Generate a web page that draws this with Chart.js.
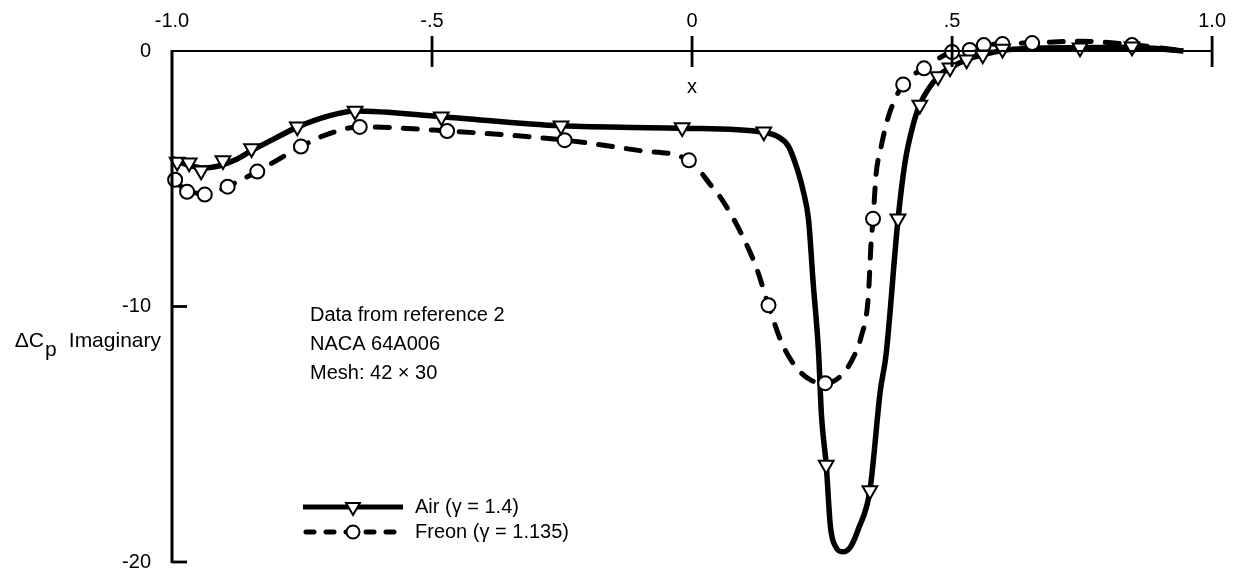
<!DOCTYPE html>
<html>
<head>
<meta charset="utf-8">
<title>ΔCp Imaginary</title>
<script src="https://cdn.jsdelivr.net/npm/chart.js@4.4.1/dist/chart.umd.min.js"></script>
<style>
    html, body { margin: 0; padding: 0; background: #fff; }
    #wrap { width: 1244px; height: 579px; }
</style>
</head>
<body>
<div id="wrap"><canvas id="cpChart" width="1244" height="579"></canvas></div>
<script>
// --- Axis data ---
const xTickValues = [-1.0, -0.5, 0, 0.5, 1.0];
const yTickValues = [0, -10, -20];

// --- Air (gamma = 1.4): smooth curve + symbols ---
const airCurveX = [-1.000, -0.985, -0.965, -0.940, -0.910, -0.880, -0.847, -0.800, -0.759, -0.700, -0.648,
    -0.482, -0.252, -0.019, 0.138, 0.165, 0.186, 0.205, 0.214, 0.224, 0.233, 0.243, 0.249, 0.258, 0.266,
    0.276, 0.290, 0.305, 0.320, 0.342, 0.362, 0.373, 0.396, 0.410, 0.425, 0.438, 0.473, 0.496, 0.528,
    0.559, 0.597, 0.650, 0.746, 0.846, 0.900, 0.945];
const airCurveY = [-4.20, -4.35, -4.48, -4.58, -4.50, -4.28, -3.90, -3.40, -2.98, -2.55, -2.35,
    -2.57, -2.93, -3.02, -3.18, -3.35, -3.75, -4.80, -5.50, -6.60, -9.10, -11.7, -14.3, -16.2, -18.6,
    -19.4, -19.6, -19.4, -18.7, -17.2, -13.3, -11.9, -6.60, -4.30, -2.90, -2.10, -1.00, -0.66, -0.34,
    -0.15, 0.02, 0.10, 0.13, 0.15, 0.08, 0.0];
const airMarkX = [-0.990, -0.967, -0.944, -0.902, -0.847, -0.759, -0.648, -0.482, -0.252, -0.019, 0.138,
    0.258, 0.342, 0.396, 0.438, 0.473, 0.496, 0.528, 0.559, 0.597, 0.746, 0.846];
const airMarkY = [-4.34, -4.37, -4.69, -4.29, -3.82, -2.96, -2.35, -2.57, -2.93, -2.99, -3.16,
    -16.2, -17.2, -6.57, -2.11, -1.00, -0.66, -0.34, -0.15, 0.08, 0.13, 0.17];

// --- Freon (gamma = 1.135): smooth curve + symbols ---
const freonCurveX = [-1.000, -0.994, -0.971, -0.950, -0.937, -0.915, -0.893, -0.836, -0.800, -0.752, -0.700,
    -0.639, -0.471, -0.245, -0.100, -0.006, 0.038, 0.057, 0.096, 0.124, 0.147, 0.172, 0.201, 0.230, 0.256,
    0.287, 0.310, 0.325, 0.339, 0.344, 0.348, 0.354, 0.362, 0.377, 0.406, 0.446, 0.500, 0.534, 0.561,
    0.597, 0.654, 0.746, 0.846, 0.900, 0.945];
const freonCurveY = [-4.95, -5.10, -5.45, -5.58, -5.60, -5.50, -5.30, -4.72, -4.30, -3.74, -3.25,
    -2.97, -3.13, -3.49, -3.90, -4.28, -5.30, -5.80, -7.20, -8.50, -9.95, -11.4, -12.4, -12.9, -13.0,
    -12.7, -12.0, -11.2, -9.60, -7.60, -6.60, -4.80, -3.90, -2.60, -1.31, -0.68, -0.04, 0.04, 0.22,
    0.28, 0.32, 0.38, 0.25, 0.12, 0.0];
const freonMarkX = [-0.994, -0.971, -0.937, -0.893, -0.836, -0.752, -0.639, -0.471, -0.245, -0.006, 0.147,
    0.256, 0.348, 0.406, 0.446, 0.500, 0.534, 0.561, 0.597, 0.654, 0.746, 0.846];
const freonMarkY = [-5.04, -5.51, -5.62, -5.31, -4.72, -3.74, -2.97, -3.13, -3.49, -4.28, -9.95,
    -13.0, -6.57, -1.31, -0.68, -0.04, 0.04, 0.23, 0.27, 0.31, 0.39, 0.23];

const noteLines = ['Data from reference 2', 'NACA 64A006', 'Mesh: 42 × 30'];
const legendLabels = ['Air (γ = 1.4)', 'Freon (γ = 1.135)'];

const FONT = '"Liberation Sans", Arial, Helvetica, sans-serif';
const X_AXIS_H = 45;
const Y_AXIS_W = 80;
// plot box (left, top, right, bottom) in canvas pixels
const AREA = { left: 172, top: 51, right: 1218, bottom: 562 };

const toPoints = (xs, ys) => xs.map((x, i) => ({ x: x, y: ys[i] }));

function fmtX(v) {
    if (v === 0) return '0';
    if (Math.abs(v) === 1) return v.toFixed(1);
    return String(v).replace('0.', '.');
}

// --- Axes frame, notes and legend ---
const framePlugin = {
    id: 'frame',
    afterDraw(chart) {
        const ctx = chart.ctx;
        const xs = chart.scales.x;
        const ys = chart.scales.y;
        const x0 = xs.getPixelForValue(-1);
        const x1 = xs.getPixelForValue(1);
        const y0 = ys.getPixelForValue(0);
        const y1 = ys.getPixelForValue(-20);

        ctx.save();
        ctx.strokeStyle = '#000';
        ctx.fillStyle = '#000';
        ctx.lineCap = 'butt';

        // axis lines
        ctx.lineWidth = 2.2;
        ctx.beginPath();
        ctx.moveTo(x0, y0);
        ctx.lineTo(x1, y0);
        ctx.stroke();
        ctx.lineWidth = 3;
        ctx.beginPath();
        ctx.moveTo(x0, y0 - 1);
        ctx.lineTo(x0, y1 + 1);
        ctx.stroke();

        // tick marks
        ctx.lineWidth = 2.8;
        xTickValues.filter(v => v !== -1).forEach(v => {
            const px = xs.getPixelForValue(v);
            ctx.beginPath();
            ctx.moveTo(px, y0 - 15);
            ctx.lineTo(px, y0 + 16);
            ctx.stroke();
        });
        yTickValues.filter(v => v !== 0).forEach(v => {
            const py = ys.getPixelForValue(v);
            ctx.beginPath();
            ctx.moveTo(x0, py);
            ctx.lineTo(x0 + 15, py);
            ctx.stroke();
        });

        // axis titles
        ctx.font = '20px ' + FONT;
        ctx.textBaseline = 'alphabetic';
        ctx.textAlign = 'center';
        ctx.fillText('x', xs.getPixelForValue(0), 93);

        ctx.font = '21px ' + FONT;
        ctx.textAlign = 'right';
        ctx.fillText('Imaginary', x0 - 11, 347);
        ctx.fillText('ΔC', 44, 347);
        ctx.textAlign = 'left';
        ctx.fillText('p', 45, 356);

        // notes
        ctx.font = '20px ' + FONT;
        noteLines.forEach((t, i) => ctx.fillText(t, 310, 321 + i * 29));

        // legend
        const lx0 = 303, lx1 = 403, mx = 353;
        const rows = [507, 532];
        ctx.lineWidth = 5;
        ctx.beginPath();
        ctx.moveTo(lx0, rows[0]);
        ctx.lineTo(lx1, rows[0]);
        ctx.stroke();
        ctx.lineCap = 'round';
        ctx.setLineDash([8, 12]);
        ctx.beginPath();
        ctx.moveTo(lx0 + 3, rows[1]);
        ctx.lineTo(lx1, rows[1]);
        ctx.stroke();
        ctx.setLineDash([]);

        ctx.lineWidth = 2;
        ctx.fillStyle = '#fff';
        const r = 8;
        ctx.beginPath();
        ctx.moveTo(mx, rows[0] + r);
        ctx.lineTo(mx - r * Math.sin(Math.PI / 3), rows[0] - r / 2);
        ctx.lineTo(mx + r * Math.sin(Math.PI / 3), rows[0] - r / 2);
        ctx.closePath();
        ctx.fill();
        ctx.stroke();
        ctx.beginPath();
        ctx.arc(mx, rows[1], 6.5, 0, Math.PI * 2);
        ctx.fill();
        ctx.stroke();

        ctx.fillStyle = '#000';
        ctx.textBaseline = 'middle';
        legendLabels.forEach((t, i) => ctx.fillText(t, 415, rows[i]));
        ctx.restore();
    }
};

const markStyle = {
    showLine: false,
    borderColor: '#000',
    backgroundColor: '#fff',
    pointBorderWidth: 2,
    clip: false,
    order: 1
};

new Chart(document.getElementById('cpChart'), {
    type: 'line',
    data: {
        datasets: [
            {
                label: 'Air curve',
                data: toPoints(airCurveX, airCurveY),
                borderColor: '#000',
                borderWidth: 5.5,
                pointRadius: 0,
                cubicInterpolationMode: 'monotone',
                fill: false,
                clip: false,
                order: 2
            },
            {
                label: 'Freon curve',
                data: toPoints(freonCurveX, freonCurveY),
                borderColor: '#000',
                borderWidth: 5,
                borderDash: [14, 14],
                borderCapStyle: 'round',
                pointRadius: 0,
                cubicInterpolationMode: 'monotone',
                fill: false,
                clip: false,
                order: 2
            },
            Object.assign({
                label: 'Air',
                data: toPoints(airMarkX, airMarkY),
                pointStyle: 'triangle',
                rotation: 180,
                pointRadius: 8.5
            }, markStyle),
            Object.assign({
                label: 'Freon',
                data: toPoints(freonMarkX, freonMarkY),
                pointStyle: 'circle',
                pointRadius: 7
            }, markStyle)
        ]
    },
    options: {
        responsive: false,
        animation: false,
        layout: { padding: { left: AREA.left - Y_AXIS_W, top: AREA.top - X_AXIS_H, right: 1244 - AREA.right, bottom: 579 - AREA.bottom } },
        plugins: {
            legend: { display: false },
            tooltip: { enabled: false }
        },
        scales: {
            x: {
                type: 'linear',
                position: 'top',
                min: -1,
                max: 1,
                afterFit: s => { s.height = X_AXIS_H; },
                afterBuildTicks: s => { s.ticks = xTickValues.map(v => ({ value: v })); },
                grid: { display: false, drawTicks: false },
                border: { display: false },
                ticks: {
                    autoSkip: false,
                    maxRotation: 0,
                    padding: 18,
                    color: '#000',
                    font: { family: FONT, size: 20 },
                    callback: v => fmtX(v)
                }
            },
            y: {
                type: 'linear',
                min: -20,
                max: 0,
                // fixed width, and no extra room above/below for the tick labels
                afterFit: s => { s.width = Y_AXIS_W; s.paddingTop = 0; s.paddingBottom = 0; },
                afterBuildTicks: s => { s.ticks = yTickValues.map(v => ({ value: v })); },
                grid: { display: false, drawTicks: false },
                border: { display: false },
                ticks: {
                    padding: 21,
                    color: '#000',
                    font: { family: FONT, size: 20 },
                    callback: v => String(v)
                }
            }
        }
    },
    plugins: [framePlugin]
});
</script>
</body>
</html>
